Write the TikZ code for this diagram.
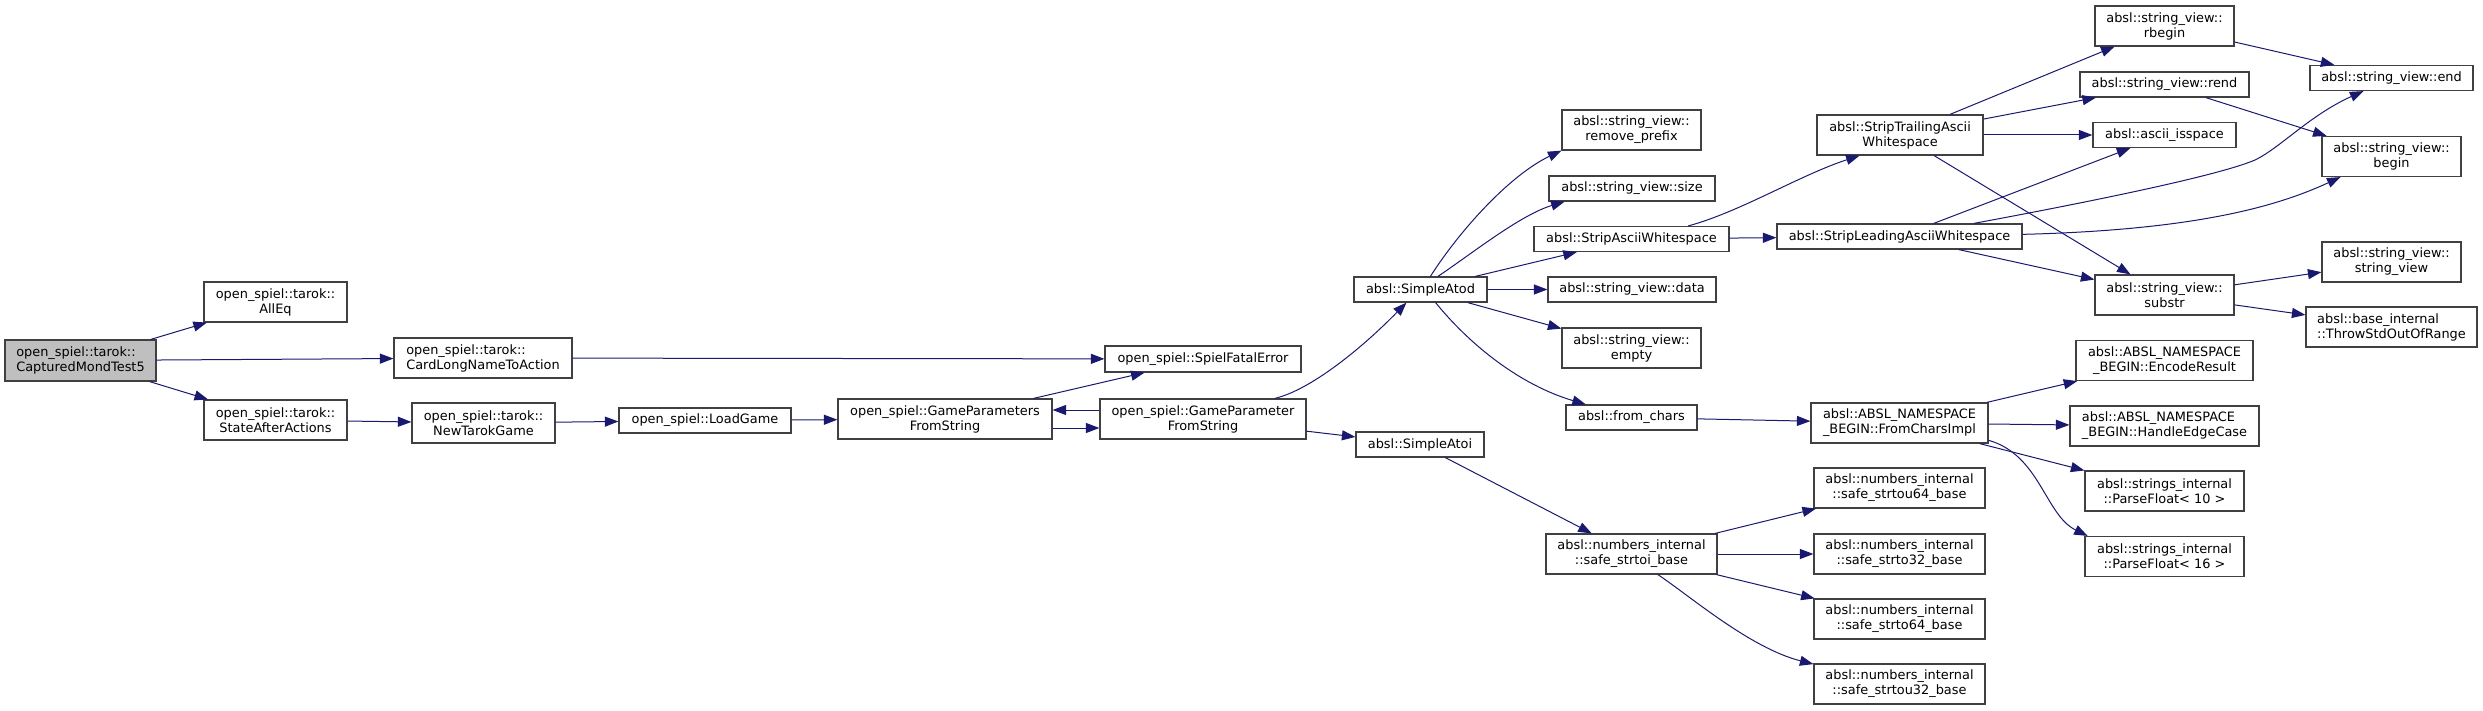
\documentclass[tikz,border=0pt]{standalone}
\usepackage{fontspec}
\newfontfamily\doxfont{DejaVu Sans}
\usetikzlibrary{arrows.meta}
\definecolor{callblue}{RGB}{25,25,112}
\definecolor{boxline}{RGB}{64,64,64}
\begin{document}
\begin{tikzpicture}[x=1pt, y=-1pt,
  func/.style={draw=boxline, line width=1.2pt, inner sep=0pt, align=center,
    font=\doxfont\fontsize{12.9}{15}\selectfont},
  wh/.style 2 args={minimum width=#1pt, minimum height=#2pt},
  call/.style={draw=callblue, line width=1pt, -{Triangle[length=13.5pt,width=10pt]}}]
  \useasboundingbox (0,0) rectangle (2483,711);

\node[func, wh={151}{41}, fill=black!25, align=left] (captured) at (80.5,360.5) {open\_spiel::tarok::\\CapturedMondTest5};
\node[func, wh={143}{40}] (alleq) at (275.5,302) {open\_spiel::tarok::\\AllEq};
\node[func, wh={178}{40}, align=left] (cardlong) at (483,358) {open\_spiel::tarok::\\CardLongNameToAction};
\node[func, wh={143}{40}] (stateafter) at (275.5,420) {open\_spiel::tarok::\\StateAfterActions};
\node[func, wh={143}{40}] (newtarok) at (483.5,423) {open\_spiel::tarok::\\NewTarokGame};
\node[func, wh={172}{25}] (loadgame) at (705,420.5) {open\_spiel::LoadGame};
\node[func, wh={214}{40}] (gpsfs) at (945,419) {open\_spiel::GameParameters\\FromString};
\node[func, wh={196}{26}] (spielfatal) at (1203,359) {open\_spiel::SpielFatalError};
\node[func, wh={206}{40}] (gpfs) at (1203,419) {open\_spiel::GameParameter\\FromString};

\node[func, wh={133}{25}] (simpleatod) at (1420.5,289.5) {absl::SimpleAtod};
\node[func, wh={128}{25}] (simpleatoi) at (1420,444.5) {absl::SimpleAtoi};

\node[func, wh={139}{40}] (removeprefix) at (1631.5,130) {absl::string\_view::\\remove\_prefix};
\node[func, wh={166}{25}] (svsize) at (1632,188.5) {absl::string\_view::size};
\node[func, wh={195}{25}] (stripascii) at (1631.5,239) {absl::StripAsciiWhitespace};
\node[func, wh={168}{25}] (svdata) at (1632,289.5) {absl::string\_view::data};
\node[func, wh={139}{40}] (svempty) at (1631.5,348) {absl::string\_view::\\empty};
\node[func, wh={131}{25}] (fromchars) at (1631.5,417.5) {absl::from\_chars};
\node[func, wh={171}{40}] (safestrtoi) at (1631.5,554) {absl::numbers\_internal\\::safe\_strtoi\_base};

\node[func, wh={166}{40}] (striptrailing) at (1900,135) {absl::StripTrailingAscii\\Whitespace};
\node[func, wh={245}{25}] (stripleading) at (1899.5,236.5) {absl::StripLeadingAsciiWhitespace};
\node[func, wh={177}{40}, align=left] (fromcharsimpl) at (1899.5,423) {absl::ABSL\_NAMESPACE\\\_BEGIN::FromCharsImpl};
\node[func, wh={171}{40}] (strtou64) at (1899.5,488) {absl::numbers\_internal\\::safe\_strtou64\_base};
\node[func, wh={171}{40}] (strto32) at (1899.5,554) {absl::numbers\_internal\\::safe\_strto32\_base};
\node[func, wh={171}{40}] (strto64) at (1899.5,619) {absl::numbers\_internal\\::safe\_strto64\_base};
\node[func, wh={171}{40}] (strtou32) at (1899.5,684) {absl::numbers\_internal\\::safe\_strtou32\_base};

\node[func, wh={139}{40}] (rbegin) at (2164.5,26) {absl::string\_view::\\rbegin};
\node[func, wh={169}{25}] (svrend) at (2164.5,84.5) {absl::string\_view::rend};
\node[func, wh={143}{25}] (isspace) at (2164.5,135) {absl::ascii\_isspace};
\node[func, wh={139}{40}] (substr) at (2164.5,295) {absl::string\_view::\\substr};
\node[func, wh={177}{40}] (encoderesult) at (2164.5,360.5) {absl::ABSL\_NAMESPACE\\\_BEGIN::EncodeResult};
\node[func, wh={189}{40}, align=left] (handleedge) at (2164.5,426) {absl::ABSL\_NAMESPACE\\\_BEGIN::HandleEdgeCase};
\node[func, wh={159}{40}] (parsefloat10) at (2164.5,491) {absl::strings\_internal\\::ParseFloat< 10 >};
\node[func, wh={159}{40}] (parsefloat16) at (2164.5,556.5) {absl::strings\_internal\\::ParseFloat< 16 >};

\node[func, wh={163}{25}] (svend) at (2391.5,78) {absl::string\_view::end};
\node[func, wh={139}{40}] (svbegin) at (2391.5,156.5) {absl::string\_view::\\begin};
\node[func, wh={139}{40}] (stringview) at (2391.5,262) {absl::string\_view::\\string\_view};
\node[func, wh={171}{40}, align=left] (throwstd) at (2391.5,327) {absl::base\_internal\\::ThrowStdOutOfRange};

  \draw[call] (captured) -- (alleq);
  \draw[call] (captured) -- (cardlong);
  \draw[call] (captured) -- (stateafter);
  \draw[call] (cardlong) -- (spielfatal);
  \draw[call] (stateafter) -- (newtarok);
  \draw[call] (newtarok) -- (loadgame);
  \draw[call] (loadgame) -- (gpsfs);
  \draw[call] (gpsfs) -- (spielfatal);
  \draw[call] ([yshift=-9pt]gpsfs.east) -- ([yshift=-9pt]gpfs.west);
  \draw[call] ([yshift=9pt]gpfs.west) -- ([yshift=9pt]gpsfs.east);
  \draw[call] (gpfs.16) .. controls (1310,390) and (1360,350) .. (simpleatod.223);
  \draw[call] (gpfs) -- (simpleatoi);
  \draw[call] (simpleatod.53) .. controls (1460,230) and (1510,175) .. (removeprefix.south west);
  \draw[call] (simpleatod.37) .. controls (1470,255) and (1520,215) .. (svsize.191);
  \draw[call] (simpleatod) -- (stripascii);
  \draw[call] (simpleatod) -- (svdata);
  \draw[call] (simpleatod) -- (svempty);
  \draw[call] (simpleatod.319) .. controls (1470,345) and (1520,385) .. (fromchars.164);
  \draw[call] (simpleatoi) -- (safestrtoi);
  \draw[call] (stripascii.13) .. controls (1740,212) and (1800,175) .. (striptrailing.207);
  \draw[call] (stripascii) -- (stripleading);
  \draw[call] (fromchars) -- (fromcharsimpl);
  \draw[call] (safestrtoi) -- (strtou64);
  \draw[call] (safestrtoi) -- (strto32);
  \draw[call] (safestrtoi) -- (strto64);
  \draw[call] (safestrtoi.322) .. controls (1690,596) and (1750,648) .. (strtou32.167);
  \draw[call] (striptrailing) -- (rbegin);
  \draw[call] (striptrailing) -- (svrend);
  \draw[call] (striptrailing) -- (isspace);
  \draw[call] (striptrailing) -- (substr);
  \draw[call] (stripleading) -- (isspace);
  \draw[call] (stripleading.10) .. controls (2100,200) and (2220,175) .. (2255,160) .. controls (2280,148) and (2310,115) .. (svend.205);
  \draw[call] (stripleading.1) .. controls (2200,230) and (2280,205) .. (svbegin.202);
  \draw[call] (stripleading) -- (substr);
  \draw[call] (fromcharsimpl) -- (encoderesult);
  \draw[call] (fromcharsimpl) -- (handleedge);
  \draw[call] (fromcharsimpl) -- (parsefloat10);
  \draw[call] (fromcharsimpl.349) .. controls (2040,455) and (2045,515) .. (parsefloat16.165);
  \draw[call] (rbegin) -- (svend);
  \draw[call] (svrend) -- (svbegin);
  \draw[call] (substr) -- (stringview);
  \draw[call] (substr) -- (throwstd);
\end{tikzpicture}
\end{document}
